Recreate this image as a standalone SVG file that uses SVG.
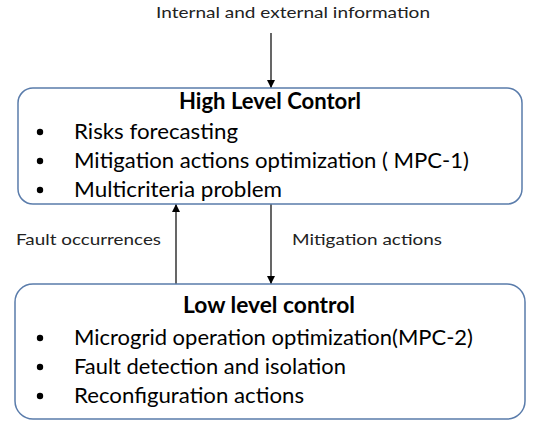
<svg xmlns="http://www.w3.org/2000/svg" width="545" height="423" viewBox="0 0 545 423">
  <style>
    .box { fill: #ffffff; stroke: #5a7cab; stroke-width: 1.5; }
    .title { font-family: "Lato", "Liberation Sans", sans-serif; font-weight: bold; font-size: 22px; fill: #000; }
    .item { font-family: "Lato", "Liberation Sans", sans-serif; font-size: 22px; fill: #000; }
    .label { font-family: "Lato", "Liberation Sans", sans-serif; font-size: 16px; fill: #222; }
    .wire { stroke: #000; stroke-width: 1.2; fill: none; }
  </style>
  <defs>
    <marker id="arrow" viewBox="0 0 10 10" refX="10" refY="5" markerWidth="8" markerHeight="8" markerUnits="userSpaceOnUse" orient="auto">
      <path d="M0,0 L10,5 L0,10 Z" fill="#000"/>
    </marker>
  </defs>
  <rect width="545" height="423" fill="#ffffff"/>

  <text class="label" x="293" y="18" text-anchor="middle" textLength="274" lengthAdjust="spacingAndGlyphs">Internal and external information</text>

  <g id="connectors">
    <line class="wire" x1="271" y1="33" x2="271" y2="88" marker-end="url(#arrow)"/>
    <line class="wire" x1="271" y1="204" x2="271" y2="284" marker-end="url(#arrow)"/>
    <line class="wire" x1="176" y1="284" x2="176" y2="204" marker-end="url(#arrow)"/>
    <text class="label" x="16" y="245" textLength="145" lengthAdjust="spacingAndGlyphs">Fault occurrences</text>
    <text class="label" x="292" y="245" textLength="150" lengthAdjust="spacingAndGlyphs">Mitigation actions</text>
  </g>

  <g id="high-level">
    <rect class="box" x="18" y="88" width="504" height="116" rx="15"/>
    <text class="title" x="270" y="109" text-anchor="middle" textLength="182" lengthAdjust="spacingAndGlyphs">High Level Contorl</text>
    <circle cx="40" cy="132" r="3.2"/>
    <text class="item" x="74" y="139" textLength="164" lengthAdjust="spacingAndGlyphs">Risks forecasting</text>
    <circle cx="40" cy="161" r="3.2"/>
    <text class="item" x="74" y="168" textLength="395" lengthAdjust="spacingAndGlyphs">Mitigation actions optimization ( MPC-1)</text>
    <circle cx="40" cy="190" r="3.2"/>
    <text class="item" x="74" y="197" textLength="208" lengthAdjust="spacingAndGlyphs">Multicriteria problem</text>
  </g>

  <g id="low-level">
    <rect class="box" x="15" y="284" width="510" height="135" rx="18"/>
    <text class="title" x="269" y="313" text-anchor="middle" textLength="172" lengthAdjust="spacingAndGlyphs">Low level control</text>
    <circle cx="40" cy="338" r="3.2"/>
    <text class="item" x="74" y="345" textLength="399" lengthAdjust="spacingAndGlyphs">Microgrid operation optimization(MPC-2)</text>
    <circle cx="40" cy="367" r="3.2"/>
    <text class="item" x="74" y="374" textLength="272" lengthAdjust="spacingAndGlyphs">Fault detection and isolation</text>
    <circle cx="40" cy="396" r="3.2"/>
    <text class="item" x="74" y="403" textLength="230" lengthAdjust="spacingAndGlyphs">Reconfiguration actions</text>
  </g>
</svg>
